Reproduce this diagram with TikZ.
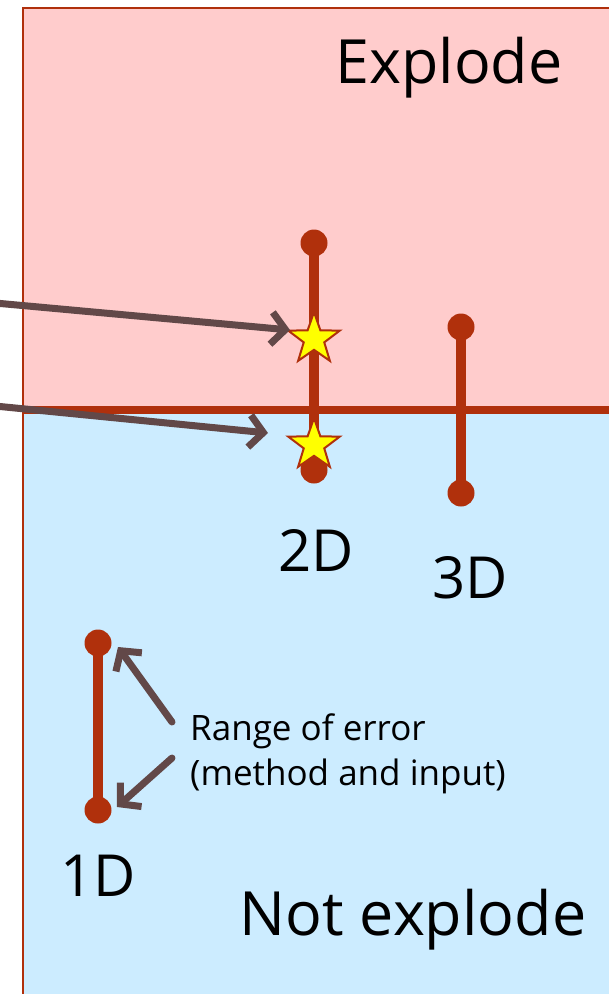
\documentclass[tikz,border=0pt]{standalone}
\usepackage{fontspec}
\setmainfont{Open Sans}
\usetikzlibrary{arrows.meta,shapes.geometric}
\definecolor{dred}{RGB}{176,48,12}
\definecolor{pinkbg}{RGB}{255,204,204}
\definecolor{bluebg}{RGB}{204,236,255}
\definecolor{arrowc}{RGB}{98,72,72}
\definecolor{staryel}{RGB}{255,255,0}
\tikzset{
  bar/.style={draw=dred,line width=10pt},
  dot/.style={circle,fill=dred,inner sep=0pt,minimum size=27pt},
  starmark/.style={star,star points=5,star point ratio=2.5,fill=staryel,draw=dred,line width=2pt,inner sep=0pt,minimum size=54pt},
  pointer/.style={draw=arrowc,line width=7pt,line cap=round,-{Straight Barb[length=14pt,width=32pt,line width=7pt]}},
  lbl/.style={font=\fontsize{58}{66}\selectfont,inner sep=0pt},
  big/.style={font=\fontsize{61}{70}\selectfont,inner sep=0pt},
  small/.style={font=\fontsize{35}{45}\selectfont,inner sep=0pt,align=left}
}
\begin{document}
\begin{tikzpicture}[x=1pt,y=-1pt]
\useasboundingbox (0,0) rectangle (609,994);
\fill[white] (0,0) rectangle (609,994);
% regions
\fill[pinkbg] (23,8) rectangle (615,410);
\fill[bluebg] (23,410) rectangle (615,1000);
\draw[dred,line width=2.5pt] (23,1000) -- (23,8) -- (615,8);
\draw[dred,line width=8.5pt] (23,410) -- (615,410);
% labels
\node[big] (explode) at (449,68) {Explode};
\node[big] (notexp) at (413,920) {Not explode};
% 2D
\node[dot] (t2) at (314,243) {};
\node[dot] (b2) at (314,470) {};
\draw[bar] (t2.center) -- (b2.center);
\node[lbl] (l2) at (316,550) {2D};
% 3D
\node[dot] (t3) at (461,327) {};
\node[dot] (b3) at (461,493) {};
\draw[bar] (t3.center) -- (b3.center);
\node[lbl] (l3) at (470,578) {3D};
% 1D
\node[dot] (t1) at (98,643) {};
\node[dot] (b1) at (98,810) {};
\draw[bar] (t1.center) -- (b1.center);
\node[lbl] (l1) at (98,876) {1D};
% stars
\node[starmark] (s1) at (314,339) {};
\node[starmark] (s2) at (314,445) {};
% pointers
\coordinate (p1) at (-5,303);
\coordinate (p2) at (-5,406);
\coordinate (e1) at (290,330);
\coordinate (e2) at (268,433);
\draw[pointer] (p1) -- (e1);
\draw[pointer] (p2) -- (e2);
% range of error
\node[small,anchor=west] (rng) at (190,754) {Range of error\\(method and input)};
\coordinate (a1) at (172,722);
\coordinate (a2) at (172,758);
\coordinate (f1) at (118,647);
\coordinate (f2) at (117,807);
\draw[pointer] (a1) -- (f1);
\draw[pointer] (a2) -- (f2);
\end{tikzpicture}
\end{document}
